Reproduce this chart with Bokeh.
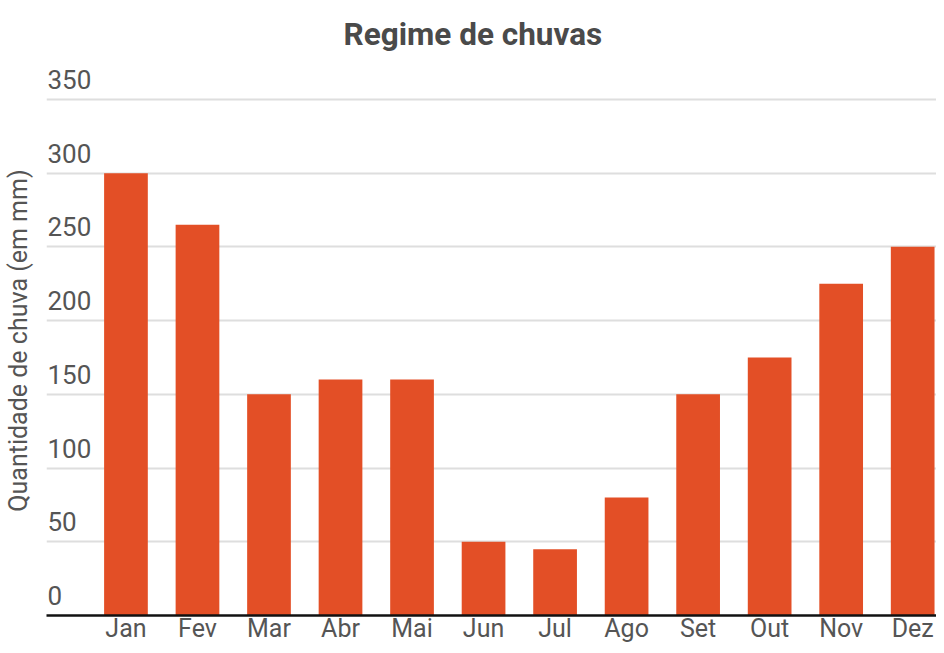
from bokeh.plotting import figure
from bokeh.models import Range1d, FixedTicker, ColumnDataSource
from bokeh.core.properties import value
from bokeh.embed import file_html
from bokeh.resources import INLINE

months = ["Jan", "Fev", "Mar", "Abr", "Mai", "Jun", "Jul", "Ago", "Set", "Out", "Nov", "Dez"]
rain = [300, 265, 150, 160, 160, 50, 45, 80, 150, 175, 225, 250]
yticks = [0, 50, 100, 150, 200, 250, 300, 350]
ytick_labels = [str(v) for v in yticks]

FONT = "Roboto"
GRAY = "#555555"
BAR = "#E34F26"

idx = list(range(len(months)))
x_start, x_end = -1.111, 11.333

p = figure(width=936, height=645, output_backend="svg", toolbar_location=None,
           x_range=Range1d(x_start, x_end), y_range=Range1d(0, 373),
           min_border_left=0, min_border_right=0, min_border_top=12, min_border_bottom=0)
p.outline_line_color = None
p.background_fill_color = "white"

p.title.text = "Regime de chuvas"
p.title.align = "left"
p.title.text_font = FONT
p.title.text_font_size = "31.5px"
p.title.text_font_style = "bold"
p.title.text_color = "#4a4a4a"
p.title.offset = 297
p.title.standoff = 26

src = ColumnDataSource(dict(x=idx, top=rain))
p.vbar(x="x", top="top", bottom=0, width=44/72, source=src, fill_color=BAR, line_color=None)

# x axis
p.xaxis.ticker = FixedTicker(ticks=idx)
p.xaxis.major_label_overrides = {i: m for i, m in zip(idx, months)}
p.xaxis.major_label_text_font = FONT
p.xaxis.major_label_text_font_size = "25px"
p.xaxis.major_label_text_color = GRAY
p.xaxis.major_tick_line_color = None
p.xaxis.minor_tick_line_color = None
p.xaxis.major_tick_out = 0
p.xaxis.minor_tick_out = 0
p.xaxis.major_label_standoff = -2
p.xaxis.axis_label_standoff = 0
p.xaxis.axis_line_color = "#111111"
p.xaxis.axis_line_width = 2.5
p.xgrid.visible = False

# y axis (label only) + grid
p.yaxis.ticker = FixedTicker(ticks=[])
p.ygrid.ticker = FixedTicker(ticks=yticks[1:])
p.ygrid.grid_line_color = "#dedede"
p.ygrid.grid_line_width = 2
p.yaxis.axis_line_color = None
p.yaxis.major_tick_out = 0
p.yaxis.minor_tick_out = 0
p.yaxis.major_label_standoff = 0
p.yaxis.axis_label = "Quantidade de chuva (em mm)"
p.yaxis.axis_label_text_font = FONT
p.yaxis.axis_label_text_font_size = "25px"
p.yaxis.axis_label_text_font_style = "normal"
p.yaxis.axis_label_text_color = GRAY
p.yaxis.axis_label_standoff = 14

# tick labels placed above gridlines
p.text(x=[x_start] * len(yticks), y=yticks, text=ytick_labels,
       text_font=value(FONT), text_font_size="26px", text_color=GRAY,
       text_align="left", text_baseline="alphabetic", x_offset=1, y_offset=-20)

open("out.html", "w").write(file_html(p, INLINE))
